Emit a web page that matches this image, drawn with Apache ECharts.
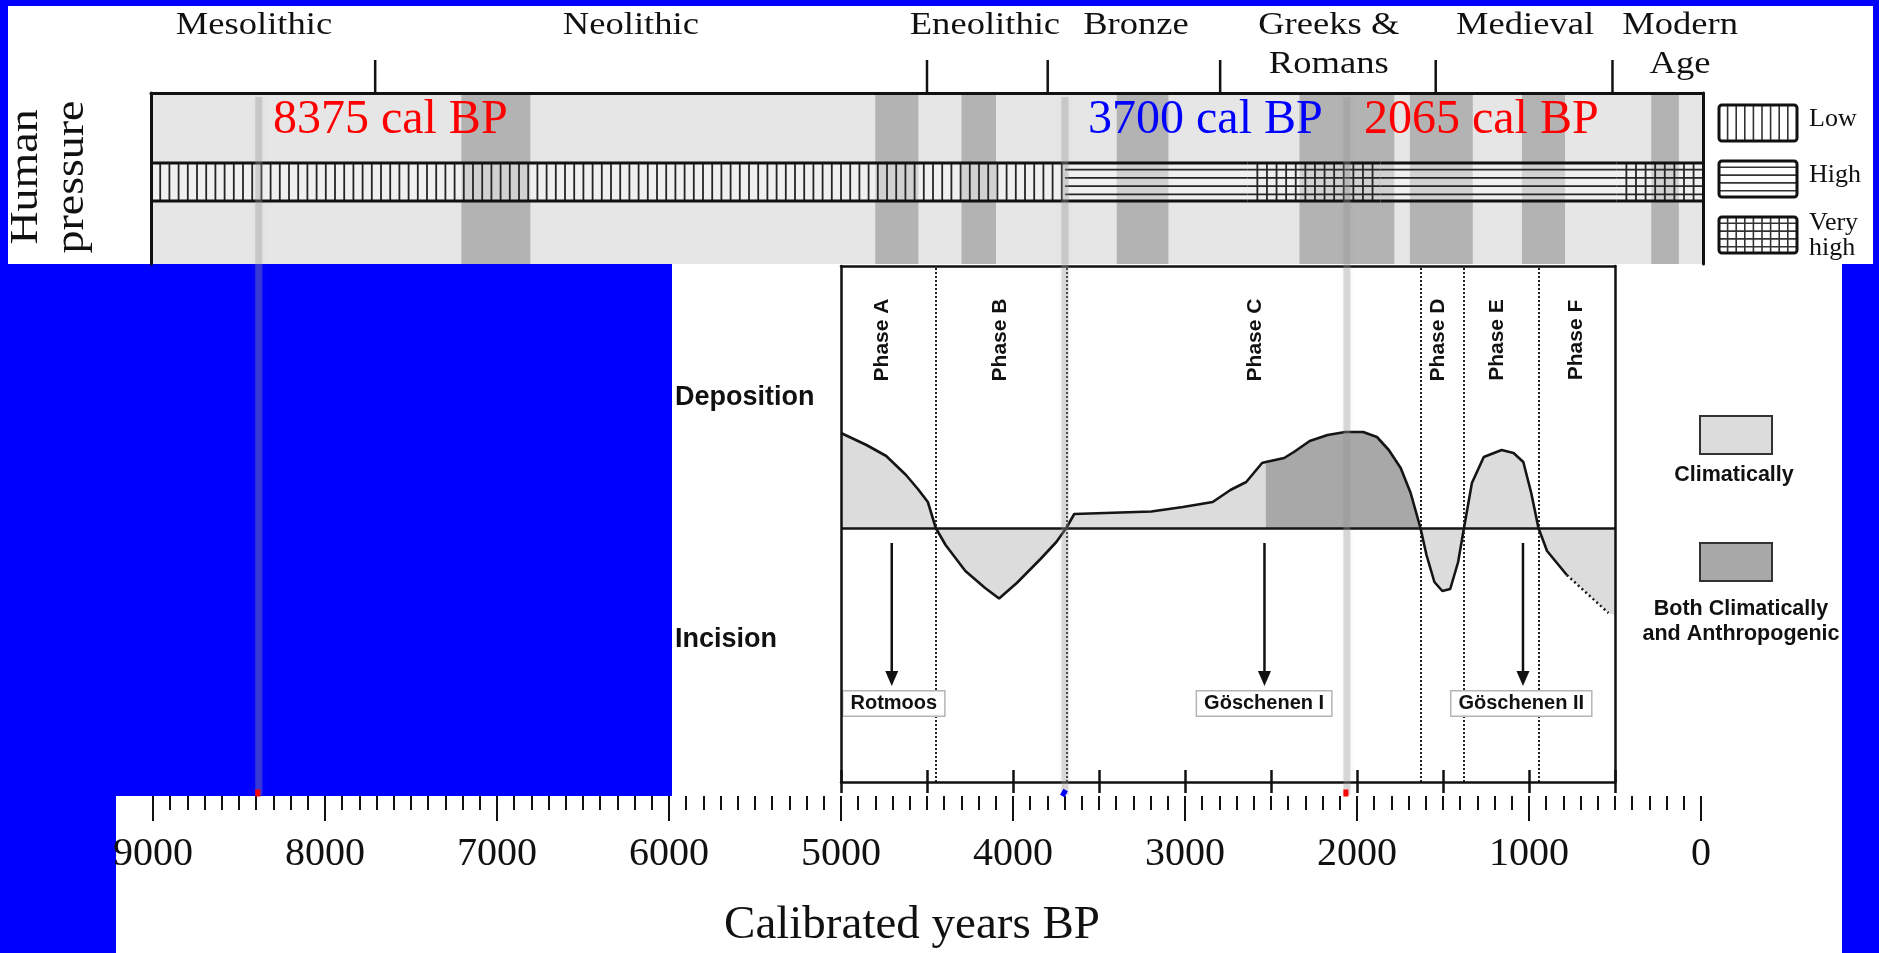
<!DOCTYPE html>
<html><head><meta charset="utf-8">
<script src="https://cdn.jsdelivr.net/npm/echarts@6/dist/echarts.min.js"></script>
<style>html,body{margin:0;padding:0;background:#0000ff;overflow:hidden}#c{width:1879px;height:953px}</style>
</head><body><div id="c"></div>
<script>
// ================= DATA =================
// Cultural periods (top band)
const periodBoundaries = [7700, 4500, 3800, 2800, 1550, 525];
const periodNames = ['Mesolithic', 'Neolithic', 'Eneolithic', 'Bronze', 'Greeks &', 'Romans', 'Medieval', 'Modern', 'Age'];
const periodLabelYears = [8403, 6217, 4164, 3288, 2170, 2170, 1032, 133, 133];
const periodLabelRows = [0, 0, 0, 0, 0, 1, 0, 0, 1];
// Darker grey bands (top band)
const bandStarts = [7200, 4800, 4300, 3400, 2340, 1700, 1050, 300];
const bandEnds = [6800, 4550, 4100, 3100, 1790, 1335, 800, 140];
// Human pressure bar
const pressureStarts = [9000, 3700, 2640, 1870, 500];
const pressureEnds = [3700, 2640, 1870, 500, 0];
const pressureLevels = ['Low', 'High', 'Very high', 'High', 'Very high'];
const pressureLegend = ['Low', 'High', 'Very high'];
// Events
const eventYears = [8375, 3700, 2065];
const eventLabels = ['8375 cal BP', '3700 cal BP', '2065 cal BP'];
const eventLabelYears = [8293, 3566, 1966];
const eventColors = ['#ff0000', '#0000ff', '#ff0000'];
// Deposition / incision curve (middle panel)
const curveYears = [5000, 4852, 4737, 4622, 4553, 4495, 4449, 4392, 4277, 4162, 4081, 3978, 3840, 3748, 3690, 3644, 3196, 3012, 2839, 2736, 2644, 2552, 2530, 2424, 2367, 2275, 2171, 2068, 1964, 1884, 1815, 1746, 1688, 1631, 1596, 1550, 1504, 1458, 1412, 1378, 1332, 1263, 1159, 1090, 1033, 987, 945, 895, 780];
const curveValues = [0.95, 0.83, 0.72, 0.53, 0.39, 0.26, 0, -0.17, -0.43, -0.60, -0.705, -0.55, -0.31, -0.14, 0, 0.14, 0.165, 0.21, 0.26, 0.38, 0.46, 0.65, 0.66, 0.70, 0.76, 0.87, 0.93, 0.96, 0.96, 0.91, 0.78, 0.60, 0.35, 0, -0.27, -0.54, -0.63, -0.61, -0.34, 0, 0.45, 0.71, 0.78, 0.75, 0.66, 0.35, 0, -0.23, -0.47];
const tailYears = [780, 538];
const tailValues = [-0.47, -0.85];
const fillEndYear = 500, fillEndValue = -0.87;
const anthropicStart = 2530, anthropicEnd = 1631;
// Phases
const phaseBoundaries = [4450, 3690, 1631, 1380, 945];
const phaseNames = ['Phase A', 'Phase B', 'Phase C', 'Phase D', 'Phase E', 'Phase F'];
const phaseYears = [4760, 4072, 2590, 1529, 1185, 728];
// Glacier advances
const advanceNames = ['Rotmoos', 'Göschenen I', 'Göschenen II'];
const advanceYears = [4705, 2538, 1035];
const advanceLabelYears = [4693, 2540, 1045];
// Bottom axis
const axisMinYear = 0, axisMaxYear = 9000, axisStep = 1000;

// ================= LAYOUT CONSTANTS =================
const SERIF = '"Liberation Serif","Times New Roman",serif';
const SANS = '"Liberation Sans",Arial,sans-serif';
const BAR_TOP = 70, BAR_BOTTOM = 108; // px-like units inside top grid
const levelCode = pressureLevels.map(l => pressureLegend.indexOf(l));

function hatchLines(x0, y0, x1, y1, vert, horiz, vstep, children, color, lw) {
  if (vert) {
    for (let x = x0 + vstep; x < x1 - 1; x += vstep) {
      children.push({type: 'line', shape: {x1: x, y1: y0, x2: x, y2: y1}, style: {stroke: color, lineWidth: lw}});
    }
  }
  if (horiz) {
    const h = y1 - y0;
    const n = 4;
    const step = h / (n + 0.6);
    for (let i = 0; i < n; i++) {
      const y = y0 + step * (0.8 + i);
      children.push({type: 'line', shape: {x1: x0, y1: y, x2: x1, y2: y}, style: {stroke: color, lineWidth: lw}});
    }
  }
}

function renderPressure(params, api) {
  const s = api.value(0), e = api.value(1), lvl = api.value(2);
  const p0 = api.coord([s, BAR_TOP]), p1 = api.coord([e, BAR_BOTTOM]);
  const x0 = p0[0], x1 = p1[0], y0 = p0[1], y1 = p1[1];
  const ch = [{type: 'rect', shape: {x: x0, y: y0, width: x1 - x0, height: y1 - y0}, style: {fill: 'rgba(255,255,255,0.4)'}}];
  hatchLines(x0, y0, x1, y1, lvl !== 1, lvl !== 0, lvl === 2 ? 9.6 : 9.2, ch, '#262626', 1.8);
  ch.push({type: 'line', shape: {x1: x0, y1: y0, x2: x1, y2: y0}, style: {stroke: '#111', lineWidth: 3}});
  ch.push({type: 'line', shape: {x1: x0, y1: y1, x2: x1, y2: y1}, style: {stroke: '#111', lineWidth: 3}});
  return {type: 'group', children: ch};
}

// ================= OPTION =================
const gridTop = {left: 151, top: 93, width: 1552, height: 171};
const gridMid = {left: 841, top: 266, width: 774, height: 516};
const gridAxis = {left: 153, top: 795, width: 1548, height: 1};
const gridOverlay = {left: 151, top: 93, width: 1552, height: 704};

const blackLine = (w) => ({show: true, onZero: false, lineStyle: {color: '#111', width: w}});
const hidden = {show: false};
const noLine = {show: false, onZero: false};

const tc = (o) => Object.assign({textAlign: o.align, textVerticalAlign: o.verticalAlign}, o);
const graphics = [
  {type: 'rect', z: -10, shape: {x: 8, y: 6, width: 1865, height: 258}, style: {fill: '#fff'}},
  {type: 'rect', z: -10, shape: {x: 672, y: 264, width: 1170, height: 533}, style: {fill: '#fff'}},
  {type: 'rect', z: -10, shape: {x: 116, y: 796, width: 1726, height: 157}, style: {fill: '#fff'}},
  {type: 'text', x: 26, y: 177, rotation: Math.PI / 2, scaleX: 1.12, style: tc({text: 'Human', fontSize: 41, fontFamily: SERIF, fill: '#111', align: 'center', verticalAlign: 'middle'})},
  {type: 'text', x: 72, y: 177, rotation: Math.PI / 2, scaleX: 1.12, style: tc({text: 'pressure', fontSize: 41, fontFamily: SERIF, fill: '#111', align: 'center', verticalAlign: 'middle'})},
  {type: 'text', x: 675, y: 398, style: tc({text: 'Deposition', fontSize: 27, fontWeight: 'bold', fontFamily: SANS, fill: '#111', align: 'left', verticalAlign: 'middle'})},
  {type: 'text', x: 675, y: 640, style: tc({text: 'Incision', fontSize: 27, fontWeight: 'bold', fontFamily: SANS, fill: '#111', align: 'left', verticalAlign: 'middle'})},
  {type: 'rect', shape: {x: 1700, y: 416, width: 72, height: 38}, style: {fill: '#dcdcdc', stroke: '#333', lineWidth: 2}},
  {type: 'rect', shape: {x: 1700, y: 543, width: 72, height: 38}, style: {fill: '#a8a8a8', stroke: '#333', lineWidth: 2}},
  {type: 'text', x: 1734, y: 475, style: tc({text: 'Climatically', fontSize: 21.5, fontWeight: 'bold', fontFamily: SANS, fill: '#111', align: 'center', verticalAlign: 'middle'})},
  {type: 'text', x: 1741, y: 609, style: tc({text: 'Both Climatically', fontSize: 21.5, fontWeight: 'bold', fontFamily: SANS, fill: '#111', align: 'center', verticalAlign: 'middle'})},
  {type: 'text', x: 1741, y: 634, style: tc({text: 'and Anthropogenic', fontSize: 21.5, fontWeight: 'bold', fontFamily: SANS, fill: '#111', align: 'center', verticalAlign: 'middle'})}
];
// top-right pressure legend
const legY = [105, 161, 217];
pressureLegend.forEach((name, i) => {
  const x0 = 1719, x1 = 1797, y0 = legY[i], y1 = legY[i] + 36;
  const ch = [{type: 'rect', shape: {x: x0, y: y0, width: x1 - x0, height: y1 - y0, r: 3}, style: {fill: '#fff'}}];
  hatchLines(x0, y0, x1, y1, i !== 1, i !== 0, 8.6, ch, '#333', 1.6);
  ch.push({type: 'rect', shape: {x: x0, y: y0, width: x1 - x0, height: y1 - y0, r: 3}, style: {fill: 'none', stroke: '#111', lineWidth: 3}});
  graphics.push({type: 'group', children: ch});
});
[['Low', 119], ['High', 175], ['Very', 223], ['high', 248]].forEach(([t, y]) => {
  graphics.push({type: 'text', x: 1809, y: y, style: tc({text: t, fontSize: 26, fontFamily: SERIF, fill: '#111', align: 'left', verticalAlign: 'middle'})});
});

const curveData = curveYears.map((y, i) => [y, curveValues[i]]);
const tailData = tailYears.map((y, i) => [y, tailValues[i]]);
const areaData = curveData.concat(tailData.slice(1)).concat([[fillEndYear, fillEndValue]]);
const darkData = curveData.filter(d => d[0] <= anthropicStart && d[0] >= anthropicEnd);

const option = {
  backgroundColor: '#0000ff',
  animation: false,
  graphic: {elements: graphics},
  grid: [gridTop, gridMid, gridAxis, gridOverlay],
  xAxis: [
    {gridIndex: 0, type: 'value', min: 0, max: 9000, inverse: true, position: 'top', axisLine: blackLine(3), axisTick: hidden, axisLabel: hidden, splitLine: hidden, z: 10},
    {gridIndex: 1, type: 'value', min: 500, max: 5000, interval: 500, inverse: true, position: 'bottom', axisLine: blackLine(2.5), axisTick: {show: true, inside: false, length: 11, lineStyle: {color: '#111', width: 2.5}}, axisLabel: hidden, splitLine: hidden, z: 10},
    {gridIndex: 1, type: 'value', min: 500, max: 5000, interval: 500, inverse: true, position: 'bottom', axisLine: noLine, axisTick: {show: true, inside: true, length: 12, lineStyle: {color: '#111', width: 2.5}}, axisLabel: hidden, splitLine: hidden, z: 10},
    {gridIndex: 1, type: 'value', min: 500, max: 5000, inverse: true, position: 'top', axisLine: blackLine(2.5), axisTick: hidden, axisLabel: hidden, splitLine: hidden, z: 10},
    {gridIndex: 2, type: 'value', min: axisMinYear, max: axisMaxYear, interval: axisStep, inverse: true, position: 'bottom',
      axisLine: noLine,
      axisTick: {show: true, length: 25, lineStyle: {color: '#111', width: 2}},
      minorTick: {show: true, splitNumber: 10, length: 14, lineStyle: {color: '#111', width: 2}},
      axisLabel: {show: true, fontFamily: SERIF, fontSize: 40, color: '#111', margin: 38, formatter: v => String(v)},
      splitLine: hidden, minorSplitLine: hidden,
      name: 'Calibrated years BP', nameLocation: 'middle', nameGap: 106,
      nameTextStyle: {fontFamily: SERIF, fontSize: 47, color: '#111', padding: [0, 30, 0, 0]}},
    {gridIndex: 3, type: 'value', min: 0, max: 9000, inverse: true, show: false}
  ],
  yAxis: [
    {gridIndex: 0, type: 'value', min: 0, max: 171, inverse: true, position: 'left', axisLine: blackLine(3), axisTick: hidden, axisLabel: hidden, splitLine: hidden, z: 10},
    {gridIndex: 0, type: 'value', min: 0, max: 171, inverse: true, position: 'right', axisLine: blackLine(3), axisTick: hidden, axisLabel: hidden, splitLine: hidden, z: 10},
    {gridIndex: 1, type: 'value', min: -2.54, max: 2.62, position: 'left', axisLine: blackLine(2.5), axisTick: hidden, axisLabel: hidden, splitLine: hidden, z: 10},
    {gridIndex: 1, type: 'value', min: -2.54, max: 2.62, position: 'right', axisLine: blackLine(2.5), axisTick: hidden, axisLabel: hidden, splitLine: hidden, z: 10},
    {gridIndex: 2, type: 'value', show: false},
    {gridIndex: 3, type: 'value', min: 0, max: 1, show: false}
  ],
  series: [
    // ---- top band ----
    {type: 'custom', xAxisIndex: 0, yAxisIndex: 0, z: 1, clip: false,
      data: [[axisMaxYear, axisMinYear]],
      renderItem(params, api) {
        const a = api.coord([api.value(0), 0]), b = api.coord([api.value(1), 171]);
        return {type: 'rect', shape: {x: a[0], y: a[1], width: b[0] - a[0], height: b[1] - a[1]}, style: {fill: '#e6e6e6'}};
      }},
    {type: 'custom', xAxisIndex: 0, yAxisIndex: 0, z: 2, clip: false,
      data: bandStarts.map((s, i) => [s, bandEnds[i]]),
      renderItem(params, api) {
        const a = api.coord([api.value(0), 0]), b = api.coord([api.value(1), 171]);
        return {type: 'rect', shape: {x: a[0], y: a[1], width: b[0] - a[0], height: b[1] - a[1]}, style: {fill: '#b3b3b3'}};
      }},
    {type: 'custom', xAxisIndex: 0, yAxisIndex: 0, z: 3, clip: false,
      data: pressureStarts.map((s, i) => [s, pressureEnds[i], levelCode[i]]),
      renderItem: renderPressure},
    {type: 'custom', xAxisIndex: 0, yAxisIndex: 0, z: 3, clip: false,
      data: periodBoundaries.map(b => [b]),
      renderItem(params, api) {
        const a = api.coord([api.value(0), -33]), b = api.coord([api.value(0), 0]);
        return {type: 'line', shape: {x1: a[0], y1: a[1], x2: b[0], y2: b[1]}, style: {stroke: '#111', lineWidth: 2.5}};
      }},
    {type: 'custom', xAxisIndex: 0, yAxisIndex: 0, z: 3, clip: false,
      data: periodLabelYears.map((y, i) => [y, periodLabelRows[i], periodNames[i]]),
      renderItem(params, api) {
        const i = params.dataIndex;
        const p = api.coord([periodLabelYears[i], periodLabelRows[i] === 0 ? -68 : -29]);
        return {type: 'text', x: p[0], y: p[1], scaleX: 1.18, scaleY: 1.05, style: {text: periodNames[i], fontSize: 31, fontFamily: SERIF, fill: '#111', align: 'center', verticalAlign: 'middle'}};
      }},
    {type: 'custom', xAxisIndex: 0, yAxisIndex: 0, z: 6, clip: false,
      data: eventLabelYears.map((y, i) => [y, eventLabels[i]]),
      renderItem(params, api) {
        const i = params.dataIndex;
        const p = api.coord([eventLabelYears[i], 27]);
        return {type: 'text', x: p[0], y: p[1], style: {text: eventLabels[i], fontSize: 48, fontFamily: SERIF, fill: eventColors[i], align: 'left', verticalAlign: 'middle'}};
      }},
    // ---- middle panel ----
    {type: 'line', xAxisIndex: 1, yAxisIndex: 2, z: 2, data: areaData, symbol: 'none', lineStyle: {width: 0},
      areaStyle: {color: '#dcdcdc', opacity: 1, origin: 0},
      markLine: {silent: true, symbol: 'none', label: {show: false},
        data: phaseBoundaries.map(b => ({xAxis: b})),
        lineStyle: {color: '#222', width: 2, type: [2, 2]}}},
    {type: 'line', xAxisIndex: 1, yAxisIndex: 2, z: 3, data: darkData, symbol: 'none', lineStyle: {width: 0},
      areaStyle: {color: '#a8a8a8', opacity: 1, origin: 0}},
    {type: 'line', xAxisIndex: 1, yAxisIndex: 2, z: 5, data: curveData, symbol: 'none',
      lineStyle: {color: '#151515', width: 2.6},
      markLine: {silent: true, symbol: 'none', label: {show: false}, data: [{yAxis: 0}], lineStyle: {color: '#151515', width: 2.6, type: 'solid'}}},
    {type: 'line', xAxisIndex: 1, yAxisIndex: 2, z: 5, data: tailData, symbol: 'none',
      lineStyle: {color: '#151515', width: 2.5, type: [2, 3]}},
    {type: 'custom', xAxisIndex: 1, yAxisIndex: 2, z: 6, clip: false,
      data: phaseYears.map((y, i) => [y, phaseNames[i]]),
      renderItem(params, api) {
        const i = params.dataIndex;
        const p = api.coord([phaseYears[i], 1.88]);
        return {type: 'text', x: p[0], y: p[1], rotation: Math.PI / 2, style: {text: phaseNames[i], fontSize: 21, fontWeight: 'bold', fontFamily: SANS, fill: '#111', align: 'center', verticalAlign: 'middle'}};
      }},
    {type: 'custom', xAxisIndex: 1, yAxisIndex: 2, z: 6, clip: false,
      data: advanceYears.map((y, i) => [y, advanceLabelYears[i]]),
      renderItem(params, api) {
        const i = params.dataIndex;
        const t = api.coord([advanceYears[i], -0.15]), tip = api.coord([advanceYears[i], -1.58]);
        const lb = api.coord([advanceLabelYears[i], -1.755]);
        return {type: 'group', children: [
          {type: 'line', shape: {x1: t[0], y1: t[1], x2: tip[0], y2: tip[1] - 12}, style: {stroke: '#111', lineWidth: 2.5}},
          {type: 'polygon', shape: {points: [[tip[0] - 6.5, tip[1] - 15], [tip[0] + 6.5, tip[1] - 15], [tip[0], tip[1]]]}, style: {fill: '#111'}},
          {type: 'text', x: lb[0], y: lb[1], style: {text: advanceNames[i], fontSize: 20, fontWeight: 'bold', fontFamily: SANS, fill: '#111', align: 'center', verticalAlign: 'middle', backgroundColor: '#fff', borderColor: '#b5b5b5', borderWidth: 1.5, padding: [2, 7]}}
        ]};
      }},
    // ---- axis grid (dummy so the axis renders) ----
    {type: 'line', xAxisIndex: 4, yAxisIndex: 4, data: [], symbol: 'none'},
    // ---- overlay: event lines and markers ----
    {type: 'custom', xAxisIndex: 5, yAxisIndex: 5, z: 20, clip: false,
      data: eventYears.map(y => [y]),
      renderItem(params, api) {
        const a = api.coord([api.value(0), 1]), b = api.coord([api.value(0), 0]);
        return {type: 'line', shape: {x1: a[0], y1: a[1] + 4, x2: b[0], y2: b[1] - 2}, style: {stroke: 'rgba(150,150,150,0.32)', lineWidth: 7, shadowBlur: 5, shadowColor: 'rgba(150,150,150,0.35)'}};
      }},
    {type: 'custom', xAxisIndex: 5, yAxisIndex: 5, z: 21, clip: false,
      data: eventYears.map(y => [y]),
      renderItem(params, api) {
        const i = params.dataIndex;
        const b = api.coord([api.value(0), 0]);
        return {type: 'rect', x: b[0] - 1, y: b[1] - 4, rotation: i === 1 ? -0.5 : 0, shape: {x: -2.5, y: -3.5, width: 5, height: 7}, style: {fill: eventColors[i]}};
      }}
  ]
};
const chart = echarts.init(document.getElementById('c'), null, {renderer: 'canvas', width: 1879, height: 953});
chart.setOption(option);
</script>
</body></html>
